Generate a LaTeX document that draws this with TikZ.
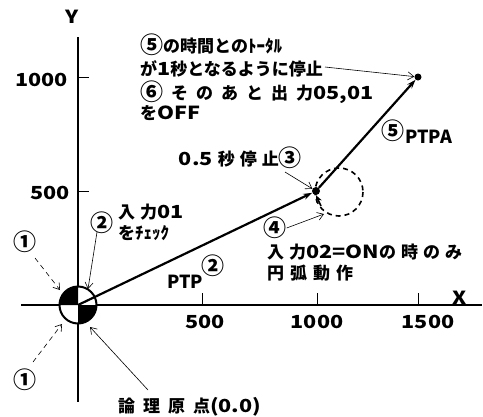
\documentclass[tikz,border=0pt]{standalone}
\usepackage{fontspec}
\newfontfamily\jp{Noto Sans CJK JP}
\newfontfamily\jpw{Noto Sans CJK JP}[FakeStretch=1.2]
\usetikzlibrary{arrows.meta}
\newcommand\gp{\hspace{5pt}}
\newcommand\ltn[1]{{\jpw\bfseries\fontsize{18}{18}\selectfont #1}}
\newcommand\cn[1]{{\jp\bfseries\fontsize{23}{23}\selectfont\raisebox{-1.5pt}{#1}}}
\begin{document}
\begin{tikzpicture}[x=1pt,y=-1pt,
  lbl/.style={font=\jp\bfseries\fontsize{17}{17}\selectfont, inner sep=0pt},
  num/.style={font=\jpw\bfseries\fontsize{18}{18}\selectfont, inner sep=0pt},
  plbl/.style={font=\jp\bfseries\fontsize{18}{18}\selectfont, inner sep=0pt},
  thinarrow/.style={-{Straight Barb[length=6pt,width=8pt]}, line width=0.6pt},
  dasharrow/.style={thinarrow, dash pattern=on 5pt off 4pt},
  axisline/.style={line width=2.6pt},
  tickline/.style={line width=0.6pt},
  pathline/.style={line width=2.2pt, -{Stealth[length=9pt,width=6pt]}},
  dot/.style={circle, fill, inner sep=0pt, minimum size=8pt}]
\useasboundingbox (0,0) rectangle (483,416);
% axes
\coordinate (O) at (78,305);
\coordinate (xl) at (21,305);
\coordinate (xr) at (482,305);
\coordinate (yt) at (78,37);
\coordinate (yb) at (78,402);
\draw[axisline] (xl) -- (xr);
\draw[axisline] (yt) -- (yb);
% ticks
\foreach \x in {202,317,418} \draw[tickline] (\x,293) -- (\x,305);
\foreach \y in {77,191} \draw[tickline] (78,\y) -- (89,\y);
\node[num] (xlab) at (460,298) {X};
\node[num] (ylab) at (72,17) {Y};
\node[num] (x500) at (205,322) {500};
\node[num] (x1000) at (317,322) {1000};
\node[num] (x1500) at (428,322) {1500};
\node[num, anchor=east] (y1000) at (68,80) {1000};
\node[num, anchor=east] (y500) at (70,193) {500};
% origin symbol
\fill[white] (O) circle[radius=18.5];
\fill (O) -- +(-18.5,0) arc[start angle=180, end angle=270, radius=18.5] -- cycle;
\fill (O) -- +(18.5,0) arc[start angle=0, end angle=90, radius=18.5] -- cycle;
\draw[line width=2pt] (O) circle[radius=18.5];
% path
\node[dot] (P1) at (316,191) {};
\node[dot, minimum size=7pt] (P2) at (418,77) {};
\draw[pathline] (O) -- (P1);
\draw[pathline] (P1) -- (P2);
% circular arc option
\coordinate (C) at (339,192);
\draw[line width=1.6pt, dash pattern=on 5pt off 4pt] (C) circle[radius=24];
\coordinate (a4) at (321,206);
\draw[line width=1.6pt, -{Stealth[length=7pt,width=6pt]}] (a4) -- (P1.south);
% top text
\node[lbl, anchor=west] (t1) at (140,45) {\cn{⑤}の時間とのﾄｰﾀﾙ};
\node[lbl, anchor=west] (t2) at (140,69) {が\ltn{1}秒となるように停止};
\node[lbl, anchor=west] (t3) at (140,92) {\cn{⑥}\hspace{8pt}そ\hspace{8pt}の\hspace{8pt}あ\hspace{8pt}と\hspace{8pt}出\hspace{8pt}力\ltn{05,01}};
\node[lbl, anchor=west] (t4) at (140,113) {を\ltn{OFF}};
\coordinate (t2a) at (325,67);
\draw[thinarrow] (t2a) -- (P2);
% stop label
\node[lbl, anchor=east] (t5) at (302,158) {\ltn{0.5}\gp 秒\gp 停\gp 止\cn{③}};
\coordinate (t5a) at (285,172);
\draw[thinarrow] (t5a) -- (P1);
% PTPA
\node[lbl] (n5) at (393,131) {\cn{⑤}};
\node[plbl, anchor=west] (ptpa) at (405,137) {PTPA};
% circle note
\node[lbl] (n4) at (275,228) {\cn{④}};
\coordinate (c4) at (324,214);
\draw[thinarrow] (n4.east) -- (c4);
\node[lbl, anchor=west] (t6) at (267,252) {入\gp 力\ltn{02=ON}の\gp 時\gp の\gp み};
\node[lbl, anchor=west] (t7) at (267,273) {円\hspace{6pt}弧\hspace{6pt}動\hspace{6pt}作};
% input 01
\node[lbl] (n2) at (102,223) {\cn{②}};
\node[lbl, anchor=west] (t8) at (118,212) {入\gp 力\ltn{01}};
\node[lbl, anchor=west] (t9) at (118,233) {をﾁｪｯｸ};
\coordinate (n2a) at (97,232);
\coordinate (o2) at (88,289);
\draw[thinarrow] (n2a) -- (o2);
% PTP
\node[plbl, anchor=west] (ptp) at (167,282) {PTP};
\node[lbl] (ptp2) at (213,266) {\cn{②}};
% origin notes
\node[lbl] (n1a) at (25,242) {\cn{①}};
\coordinate (n1as) at (35,258);
\coordinate (o1a) at (60,290);
\draw[dasharrow] (n1as) -- (o1a);
\node[lbl] (n1b) at (25,380) {\cn{①}};
\coordinate (n1bs) at (33,362);
\coordinate (o1b) at (62,324);
\draw[dasharrow] (n1bs) -- (o1b);
\node[lbl, anchor=west] (t10) at (118,407) {論\hspace{8pt}理\hspace{8pt}原\hspace{8pt}点\ltn{(0.0)}};
\coordinate (t10a) at (148,390);
\coordinate (o3) at (90,327);
\draw[thinarrow] (t10a) -- (o3);
\end{tikzpicture}
\end{document}
